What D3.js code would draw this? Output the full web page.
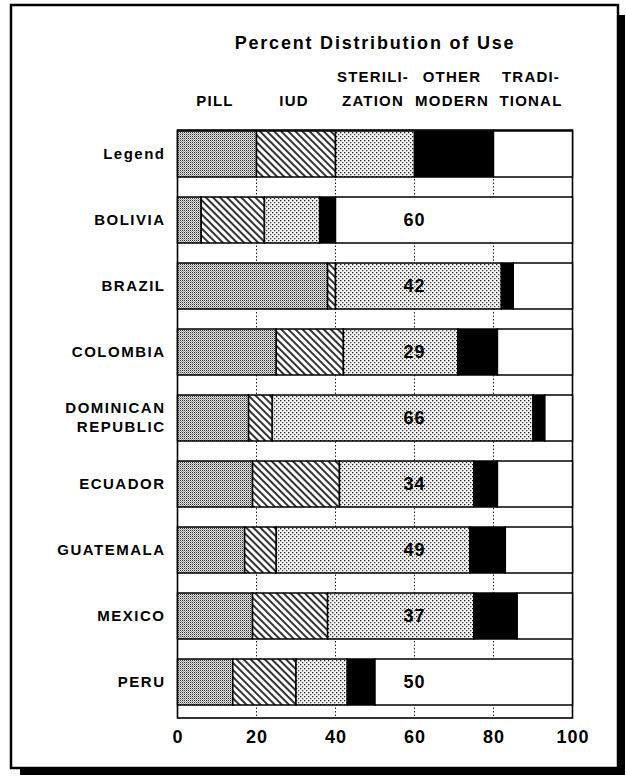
<!DOCTYPE html>
<html>
<head>
<meta charset="utf-8">
<script src="https://cdn.jsdelivr.net/npm/d3@7"></script>
<style>
  body { margin: 0; background: #fff; }
  svg text { font-family: "Liberation Sans", Arial, sans-serif; font-weight: bold; fill: #000; }
</style>
</head>
<body>
<svg id="chart" width="626" height="780"></svg>
<script>
// rows, top to bottom
const rows = ["Legend", "BOLIVIA", "BRAZIL", "COLOMBIA", "DOMINICAN REPUBLIC",
              "ECUADOR", "GUATEMALA", "MEXICO", "PERU"];
const methods = ["pill", "iud", "steril", "other", "trad"];
const headers = [["PILL"], ["IUD"], ["STERILI-", "ZATION"], ["OTHER", "MODERN"], ["TRADI-", "TIONAL"]];

// percent of use by method, one array per method (same order as rows)
const pill   = [20,  6, 38, 25, 18, 19, 17, 19, 14];
const iud    = [20, 16,  2, 17,  6, 22,  8, 19, 16];
const steril = [20, 14, 42, 29, 66, 34, 49, 37, 13];
const other  = [20,  4,  3, 10,  3,  6,  9, 11,  7];
const trad   = [20, 60, 15, 19,  7, 19, 17, 14, 50];

// number printed in each bar (none on the legend row)
const barLabels = [null, 60, 42, 29, 66, 34, 49, 37, 50];
const labelAt = 60;

const xTicks = [0, 20, 40, 60, 80, 100];

const data = rows.map((r, i) => ({
  row: r, pill: pill[i], iud: iud[i], steril: steril[i], other: other[i], trad: trad[i], label: barLabels[i]
}));

const svg = d3.select("#chart");

let x = d3.scaleLinear().domain([0, 100]).range([177.5, 572.5]);
let y = d3.scaleBand().domain(rows).range([131, 705]).paddingInner(20 / 66).paddingOuter(0);

// page border with drop shadow
svg.append("rect").attr("x", 618).attr("y", 15).attr("width", 7).attr("height", 760).attr("fill", "#000");
svg.append("rect").attr("x", 20).attr("y", 768).attr("width", 605).attr("height", 7).attr("fill", "#000");
svg.append("rect").attr("x", 11).attr("y", 5).attr("width", 607).attr("height", 763)
  .attr("fill", "#fff").attr("stroke", "#000").attr("stroke-width", 2.5);

// fill patterns
const defs = svg.append("defs");
let p = defs.append("pattern").attr("id", "p-pill").attr("width", 2).attr("height", 2)
  .attr("patternUnits", "userSpaceOnUse");
p.append("rect").attr("width", 2).attr("height", 2).attr("fill", "#e2e2e2");
p.append("rect").attr("width", 1).attr("height", 1).attr("fill", "#333");
p.append("rect").attr("x", 1).attr("y", 1).attr("width", 1).attr("height", 1).attr("fill", "#999");

p = defs.append("pattern").attr("id", "p-iud").attr("width", 5).attr("height", 5)
  .attr("patternUnits", "userSpaceOnUse").attr("patternTransform", "rotate(-45)");
p.append("rect").attr("width", 5).attr("height", 5).attr("fill", "#fff");
p.append("line").attr("x1", 1).attr("x2", 1).attr("y1", 0).attr("y2", 5)
  .attr("stroke", "#000").attr("stroke-width", 1.6);

p = defs.append("pattern").attr("id", "p-steril").attr("width", 4).attr("height", 4)
  .attr("patternUnits", "userSpaceOnUse");
p.append("rect").attr("width", 4).attr("height", 4).attr("fill", "#f4f4f4");
p.append("rect").attr("width", 1.3).attr("height", 1.3).attr("fill", "#222");
p.append("rect").attr("x", 2).attr("y", 2).attr("width", 1.3).attr("height", 1.3).attr("fill", "#444");

const fills = { pill: "url(#p-pill)", iud: "url(#p-iud)", steril: "url(#p-steril)", other: "#000", trad: "#fff" };

const plotTop = y.range()[0] - 1, plotBottom = y.range()[1] + 13;

// plot frame
svg.append("rect").attr("x", x(0)).attr("y", plotTop)
  .attr("width", x(100) - x(0)).attr("height", plotBottom - plotTop)
  .attr("fill", "#fff").attr("stroke", "#000").attr("stroke-width", 1.6);

// dotted grid
svg.append("g").selectAll("line")
  .data(xTicks.slice(1, -1))
  .join("line")
  .attr("x1", d => x(d)).attr("x2", d => x(d))
  .attr("y1", plotTop).attr("y2", plotBottom)
  .attr("stroke", "#222").attr("stroke-width", 1).attr("stroke-dasharray", "1.5,2");

// stacked bars
let stack = d3.stack().keys(methods)(data);

const layer = svg.append("g").selectAll("g")
  .data(stack)
  .join("g")
  .attr("fill", d => fills[d.key]);

layer.selectAll("rect")
  .data(d => d)
  .join("rect")
  .attr("x", d => x(d[0]))
  .attr("y", d => y(d.data.row))
  .attr("width", d => x(d[1]) - x(d[0]))
  .attr("height", y.bandwidth())
  .attr("stroke", "#000")
  .attr("stroke-width", 1.5);

// numbers inside bars
svg.append("g").selectAll("text")
  .data(data.filter(d => d.label != null))
  .join("text")
  .attr("x", x(labelAt))
  .attr("y", d => y(d.row) + y.bandwidth() / 2)
  .attr("dy", "0.36em")
  .attr("text-anchor", "middle")
  .style("font-size", "18px")
  .style("letter-spacing", "1px")
  .text(d => d.label);

// column headers, centred on the legend bar segments
const legendRow = stack.map(s => s[0]);
const hdr = svg.append("g").selectAll("text")
  .data(headers)
  .join("text")
  .attr("text-anchor", "middle")
  .style("font-size", "15px")
  .style("letter-spacing", "1.2px")
  .attr("transform", (d, i) => "translate(" + ((x(legendRow[i][0]) + x(legendRow[i][1])) / 2 - 2) + ",0)");
hdr.selectAll("tspan")
  .data(d => d.length === 1 ? ["", d[0]] : d)
  .join("tspan")
  .attr("x", 0)
  .attr("y", (d, i) => i === 0 ? 82 : 106)
  .text(d => d);

// title
svg.append("text")
  .attr("x", 375).attr("y", 49)
  .attr("text-anchor", "middle")
  .style("font-size", "18px")
  .style("letter-spacing", "1.8px")
  .text("Percent Distribution of Use");

// x axis
const xAxis = svg.append("g")
  .attr("transform", "translate(0," + (plotBottom + 6) + ")")
  .call(d3.axisBottom(x).tickValues(xTicks).tickSize(0).tickPadding(6));
xAxis.select(".domain").remove();
xAxis.selectAll("text")
  .style("font-family", "'Liberation Sans', Arial, sans-serif")
  .style("font-size", "18px")
  .style("font-weight", "bold")
  .style("letter-spacing", "1px");

// y axis (row names)
const yAxis = svg.append("g")
  .attr("transform", "translate(" + (x(0) - 12) + ",0)")
  .call(d3.axisLeft(y).tickSize(0).tickPadding(0));
yAxis.select(".domain").remove();
yAxis.selectAll("text")
  .style("font-family", "'Liberation Sans', Arial, sans-serif")
  .style("font-size", "15px")
  .style("font-weight", "bold")
  .style("letter-spacing", "1.5px")
  .each(function(d) {
    const parts = d.split(" ");
    if (parts.length < 2) return;
    const t = d3.select(this).text(null);
    parts.forEach((w, i) => {
      t.append("tspan").attr("x", 0).attr("dy", i === 0 ? "-0.32em" : "1.25em").text(w);
    });
  });
</script>
</body>
</html>
